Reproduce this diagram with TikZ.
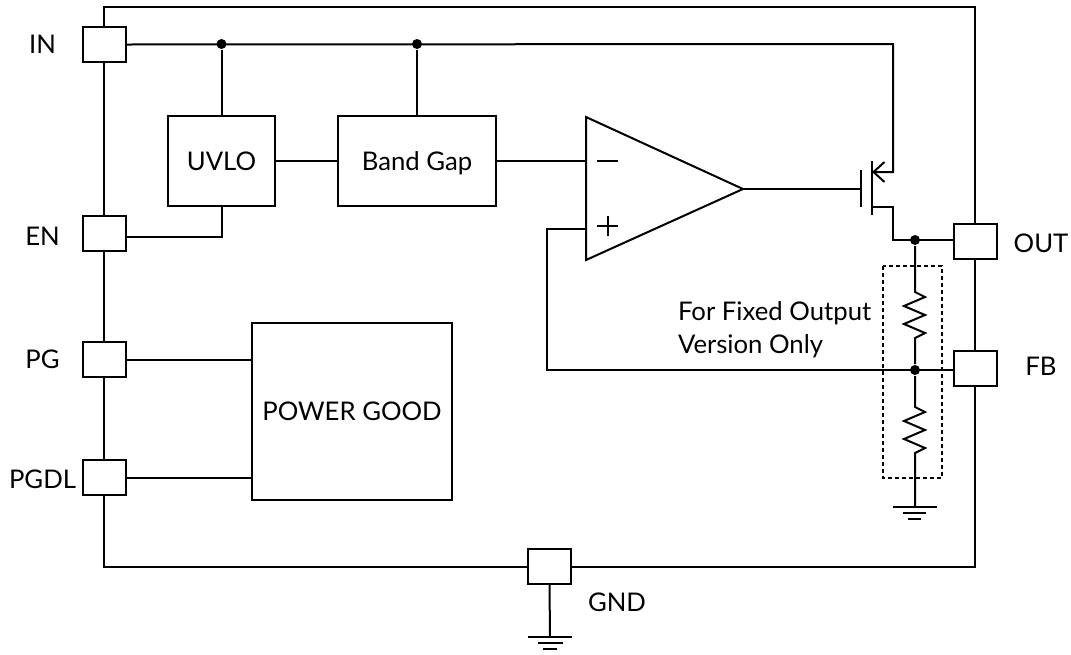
\documentclass[tikz,border=0pt]{standalone}
\usepackage{fontspec}
\setmainfont{Lato}
\usetikzlibrary{arrows.meta}
\begin{document}
\begin{tikzpicture}[x=1pt, y=-1pt, line width=2pt,
  pinbox/.style={draw, fill=white, minimum width=43pt, minimum height=35pt, inner sep=0pt},
  blkbox/.style={draw, inner sep=0pt, text height=18pt, text depth=0pt},
  lbl/.style={inner sep=0pt, text height=18pt, text depth=0pt},
  dot/.style={circle, fill, inner sep=0pt, minimum size=10pt},
  every node/.style={font=\fontsize{25.7}{33}\selectfont}]
\useasboundingbox (0,0) rectangle (1071,654);
\draw[] (104,7) rectangle (975,567);
\node[pinbox] (pin_in) at (104,44.5){};
\node[pinbox] (pin_en) at (104,233){};
\node[pinbox] (pin_pg) at (104,359){};
\node[pinbox] (pin_pgdl) at (104,477){};
\node[pinbox] (pin_out) at (975,241){};
\node[pinbox] (pin_fb) at (975,368.5){};
\node[pinbox] (pin_gnd) at (549.5,566){};
\node[lbl] (lbl_in) at (42.5,44){IN};
\node[lbl] (lbl_en) at (42.5,236){EN};
\node[lbl] (lbl_pg) at (42.5,359){PG};
\node[lbl] (lbl_pgdl) at (42.5,479){PGDL};
\node[lbl] (lbl_out) at (1041,243){OUT};
\node[lbl] (lbl_fb) at (1041,366){FB};
\node[lbl] (lbl_gnd) at (617,602){GND};
\node[blkbox, minimum width=107pt, minimum height=90pt] (uvlo) at (221.5,161){UVLO};
\node[blkbox, minimum width=158pt, minimum height=90pt] (bgap) at (417,161){Band Gap};
\node[blkbox, minimum width=200pt, minimum height=177pt] (pgood) at (352,411.5){POWER GOOD};
\node[dot] (dot_uvlo) at (221.5,44){};
\node[dot] (dot_bgap) at (417,44){};
\node[dot] (dot_out) at (915,240){};
\node[dot] (dot_fb) at (915,370){};
% error amplifier
\coordinate (amp_top) at (586,117);
\coordinate (amp_bot) at (586,260);
\coordinate (amp_out) at (743,189);
\coordinate (amp_neg) at (586,161);
\coordinate (amp_pos) at (586,229);
\draw[] (amp_top) -- (amp_out) -- (amp_bot) -- cycle;
\draw[] (597,161) -- (618,161);
\draw[] (597,226) -- (618,226);
\draw[] (607.5,216) -- (607.5,236);
% pass transistor
\coordinate (gate) at (861,189);
\coordinate (src) at (872,172);
\coordinate (drn) at (872,207);
\draw[] (861,170) -- (861,207);
\draw[] (872,161) -- (872,215);
\draw[] (amp_out) -- (gate);
\draw[-{Straight Barb[length=11pt,width=20pt]}] (pin_in.east) -- (893,44) -- (893,172) -- (src);
\draw[] (dot_uvlo) -- (uvlo.north);
\draw[] (dot_bgap) -- (bgap.north);
\draw[] (uvlo.east) -- (bgap.west);
\draw[] (bgap.east) -- (amp_neg);
\draw[] (pin_en.east |- 0,237) -| (uvlo.south);
\draw[] (drn) -- (893,207) -- (893,240) -- (pin_out.west |- dot_out);
\draw[] (pin_fb.west |- dot_fb) -- (547,370) -- (547,229) -- (amp_pos);
\draw[] (pin_pg.east |- 0,360) -- (pgood.west |- 0,360);
\draw[] (pin_pgdl.east |- 0,478) -- (pgood.west |- 0,478);
% divider
\draw[] (dot_out) -- (915,292) -- ++(10,5) -- ++(-21,9) -- ++(21,9) -- ++(-21,9) -- ++(21,9) -- ++(-10,5) -- (dot_fb);
\draw[] (dot_fb) -- (915,407) -- ++(10,5) -- ++(-21,9) -- ++(21,9) -- ++(-21,9) -- ++(21,9) -- ++(-10,5) -- (915,507);
\draw[line width=1.5pt, dash pattern=on 4pt off 3pt] (883,266) rectangle (942,478);
\node[lbl, anchor=north west, align=left, text height=, text depth=] (lbl_fixed) at (677,301){For Fixed Output\\Version Only};
% grounds
\draw[] (893,507) -- (937,507);
\draw[] (903,513) -- (926,513);
\draw[] (908,519) -- (921,519);
\draw[] (pin_gnd.south) -- (550,637);
\draw[] (528,637) -- (572,637);
\draw[] (538,643) -- (563,643);
\draw[] (543,649) -- (557,649);
\end{tikzpicture}
\end{document}
